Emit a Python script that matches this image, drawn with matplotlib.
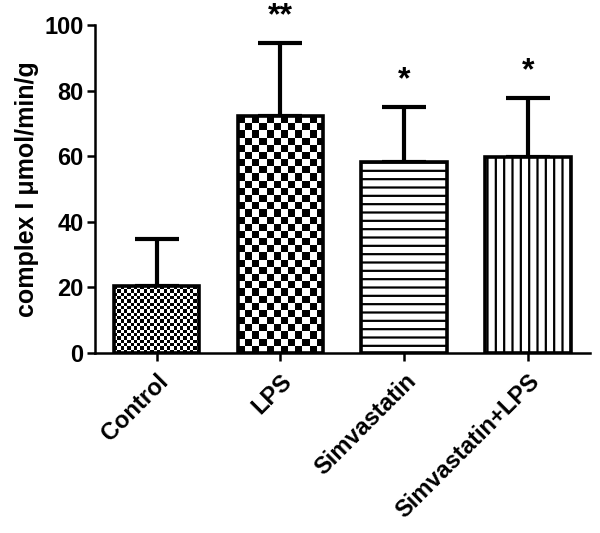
import numpy as np
import matplotlib
matplotlib.use('Agg')
import matplotlib.pyplot as plt

plt.rcParams['font.family'] = ['Liberation Sans', 'DejaVu Sans']
plt.rcParams['hatch.linewidth'] = 1.6

groups = ['Control', 'LPS', 'Simvastatin', 'Simvastatin+LPS']
means = [20.4, 72.3, 58.2, 59.8]
errors = [14.4, 22.2, 16.8, 17.9]
stars = ['', '**', '*', '*']
yticks = [0, 20, 40, 60, 80, 100]

# fill styles: checker cells across the bar, or hatch
checker_cells = [26, 12, None, None]
hatches = [None, None, '--', '||']

fig = plt.figure(figsize=(6, 5.33), dpi=100)
ax = fig.add_axes([0.158, 0.338, 0.825, 0.615])

x = np.arange(len(groups))
width = 0.69

ax.set_xlim(-0.5, 3.5)
ax.set_ylim(0, 100)

# error bars (upper only), drawn below bars
ax.errorbar(x, means, yerr=[np.zeros(len(means)), errors], fmt='none',
            ecolor='black', elinewidth=3, capsize=16, capthick=3, zorder=1)

bars = ax.bar(x, means, width=width, color='white', edgecolor='black',
              linewidth=2.6, zorder=2)

fig.canvas.draw()
for bar, n, h in zip(bars, checker_cells, hatches):
    if h is not None:
        bar.set_hatch(h)
    if n is not None:
        bar.set_facecolor('none')
        x0, y0 = bar.get_x(), bar.get_y()
        w, ht = bar.get_width(), bar.get_height()
        p0 = ax.transData.transform((x0, y0))
        p1 = ax.transData.transform((x0 + w, y0 + ht))
        px_w, px_h = p1[0] - p0[0], p1[1] - p0[1]
        rows = max(1, int(round(n * px_h / px_w)))
        board = (np.add.outer(np.arange(rows), np.arange(n)) % 2).astype(float)
        im = ax.imshow(board, cmap='gray', vmin=0, vmax=1,
                       extent=(x0, x0 + w, y0, y0 + ht),
                       interpolation='nearest', aspect='auto', zorder=1.5)
        im.set_clip_path(bar)

for xi, m, e, s in zip(x, means, errors, stars):
    if s:
        ax.text(xi, m + e + 3.5, s, ha='center', va='bottom', fontsize=23,
                fontweight='bold')

ax.set_xlim(-0.5, 3.5)
ax.set_ylim(0, 100)
ax.set_yticks(yticks)
ax.set_xticks(x)
ax.set_xticklabels(groups, rotation=45, ha='right', rotation_mode='anchor',
                   fontsize=17, fontweight='bold')
ax.tick_params(axis='y', labelsize=17, width=1.8, length=6, pad=2)
ax.tick_params(axis='x', width=1.8, length=6, pad=6)
for lab in ax.get_yticklabels():
    lab.set_fontweight('bold')

ax.spines['top'].set_visible(False)
ax.spines['right'].set_visible(False)
ax.spines['left'].set_linewidth(1.8)
ax.spines['bottom'].set_linewidth(1.8)

ax.set_ylabel('complex I \u03bcmol/min/g', fontsize=18, fontweight='bold',
              labelpad=4)

fig.savefig('out.png', dpi=100)
